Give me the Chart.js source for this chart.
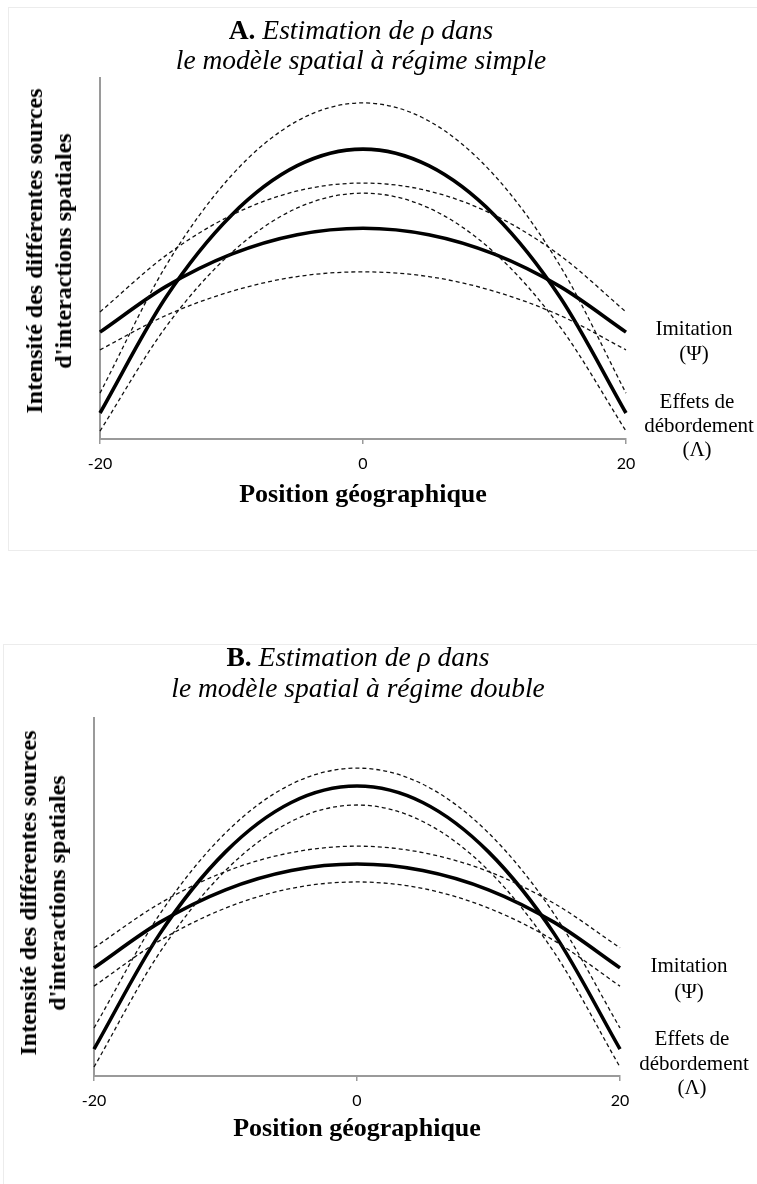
<!DOCTYPE html>
<html>
<head>
<meta charset="utf-8">
<script src="https://cdn.jsdelivr.net/npm/chart.js@4"></script>
<style>
  html, body { margin: 0; padding: 0; background: #fff; }
  body { width: 757px; height: 1184px; position: relative; overflow: hidden; }
  .panel { position: absolute; border: 1px solid #ececec; box-sizing: border-box; }
  .cv { position: absolute; left: 0; }
  .t { position: absolute; white-space: nowrap; transform: translate(-50%, -50%); font-family: "Liberation Serif", "Times New Roman", serif; color: #000; line-height: 1; }
  .title { font-size: 27.5px; font-style: italic; }
  .title b { font-style: normal; }
  .xt { font-size: 26px; font-weight: bold; }
  .yt { font-size: 24px; font-weight: bold; text-align: center; line-height: 29px; transform: translate(-50%, -50%) rotate(-90deg); }
  .lab { font-size: 21px; }
</style>
</head>
<body>
<div class="panel" style="left:8px; top:7px; width:760px; height:544px;"></div>
<div class="panel" style="left:3px; top:644px; width:760px; height:560px;"></div>

<canvas id="cA" class="cv" width="757" height="560" style="top:0px;"></canvas>
<canvas id="cB" class="cv" width="757" height="584" style="top:600px;"></canvas>

<!-- Panel A texts -->
<div class="t title" style="left:361px; top:30px;"><b>A.</b> Estimation de ρ dans</div>
<div class="t title" style="left:361px; top:60px;">le modèle spatial à régime simple</div>
<div class="t yt" style="left:49px; top:251px;">Intensité des différentes sources<br>d'interactions spatiales</div>
<div class="t xt" style="left:363px; top:494px;">Position géographique</div>
<div class="t lab" style="left:694px; top:328px;">Imitation</div>
<div class="t lab" style="left:694px; top:353px;">(Ψ)</div>
<div class="t lab" style="left:697px; top:401px;">Effets de</div>
<div class="t lab" style="left:699px; top:425px;">débordement</div>
<div class="t lab" style="left:697px; top:449px;">(Λ)</div>

<!-- Panel B texts -->
<div class="t title" style="left:358px; top:657px;"><b>B.</b> Estimation de ρ dans</div>
<div class="t title" style="left:358px; top:688px;">le modèle spatial à régime double</div>
<div class="t yt" style="left:43px; top:893px;">Intensité des différentes sources<br>d'interactions spatiales</div>
<div class="t xt" style="left:357px; top:1128px;">Position géographique</div>
<div class="t lab" style="left:689px; top:965px;">Imitation</div>
<div class="t lab" style="left:689px; top:991px;">(Ψ)</div>
<div class="t lab" style="left:692px; top:1038px;">Effets de</div>
<div class="t lab" style="left:694px; top:1063px;">débordement</div>
<div class="t lab" style="left:692px; top:1087px;">(Λ)</div>

<script>
// Positions géographiques
const positions = [-20, -15, -10, -5, 0, 5, 10, 15, 20];
const xTicks = [-20, 0, 20];

// Panel A : modèle spatial à régime simple
const effetsA     = [7.2, 39.2, 62.0, 75.7, 80.3, 75.7, 62.0, 39.2, 7.2];
const effetsHautA = [12.7, 47.9, 73.0, 88.1, 93.1, 88.1, 73.0, 47.9, 12.7];
const effetsBasA  = [2.2, 31.0, 51.6, 64.0, 68.1, 64.0, 51.6, 31.0, 2.2];
const imitA       = [29.6, 42.2, 51.2, 56.6, 58.4, 56.6, 51.2, 42.2, 29.6];
const imitHautA   = [35.2, 50.8, 62.0, 68.7, 70.9, 68.7, 62.0, 50.8, 35.2];
const imitBasA    = [24.7, 34.2, 40.9, 45.0, 46.3, 45.0, 40.9, 34.2, 24.7];

// Panel B : modèle spatial à régime double
const effetsB     = [7.5, 39.7, 62.6, 76.4, 81.0, 76.4, 62.6, 39.7, 7.5];
const effetsHautB = [13.4, 45.2, 67.9, 81.5, 86.0, 81.5, 67.9, 45.2, 13.4];
const effetsBasB  = [2.5, 34.5, 57.4, 71.1, 75.7, 71.1, 57.4, 34.5, 2.5];
const imitB       = [30.2, 42.9, 52.0, 57.4, 59.2, 57.4, 52.0, 42.9, 30.2];
const imitHautB   = [35.8, 48.2, 57.1, 62.4, 64.2, 62.4, 57.1, 48.2, 35.8];
const imitBasB    = [25.1, 37.8, 46.9, 52.4, 54.2, 52.4, 46.9, 37.8, 25.1];

function pts(vals) { return positions.map((x, i) => ({ x: x, y: vals[i] })); }

function solid(label, vals) {
  return { label, data: pts(vals), borderColor: '#000', borderWidth: 3.6, pointRadius: 0,
           cubicInterpolationMode: 'monotone', fill: false, clip: false };
}
function dashed(label, vals) {
  return { label, data: pts(vals), borderColor: '#111', borderWidth: 1.3, borderDash: [4, 3],
           pointRadius: 0, cubicInterpolationMode: 'monotone', fill: false, clip: false };
}

function makeChart(id, series, pad) {
  return new Chart(document.getElementById(id), {
    type: 'line',
    data: { datasets: [
      dashed('Effets haut', series[1]),
      dashed('Effets bas', series[2]),
      dashed('Imitation haut', series[4]),
      dashed('Imitation bas', series[5]),
      solid('Effets de débordement (Λ)', series[0]),
      solid('Imitation (Ψ)', series[3])
    ]},
    options: {
      responsive: false,
      devicePixelRatio: 1,
      animation: false,
      layout: { padding: pad },
      plugins: { legend: { display: false }, tooltip: { enabled: false }, title: { display: false } },
      scales: {
        x: {
          type: 'linear', min: -20, max: 20,
          afterFit: s => { s.height = 40; },
          afterBuildTicks: s => { s.ticks = xTicks.map(v => ({ value: v })); },
          ticks: { color: '#000', padding: 10, maxRotation: 0,
                   font: { family: 'Lato, "Open Sans", sans-serif', size: 16 } },
          grid: { display: true, drawOnChartArea: false, drawTicks: true, tickLength: 5,
                  color: '#9a9a9a', lineWidth: 1.5 },
          border: { display: true, color: '#9a9a9a', width: 2 }
        },
        y: {
          min: 0, max: 100,
          afterFit: s => { s.width = 0; },
          ticks: { display: false },
          grid: { display: false },
          border: { display: true, color: '#9a9a9a', width: 2 }
        }
      }
    }
  });
}

makeChart('cA', [effetsA, effetsHautA, effetsBasA, imitA, imitHautA, imitBasA],
          { left: 100, right: 131, top: 78, bottom: 81 });
makeChart('cB', [effetsB, effetsHautB, effetsBasB, imitB, imitHautB, imitBasB],
          { left: 94, right: 137, top: 118, bottom: 68 });
</script>
</body>
</html>
